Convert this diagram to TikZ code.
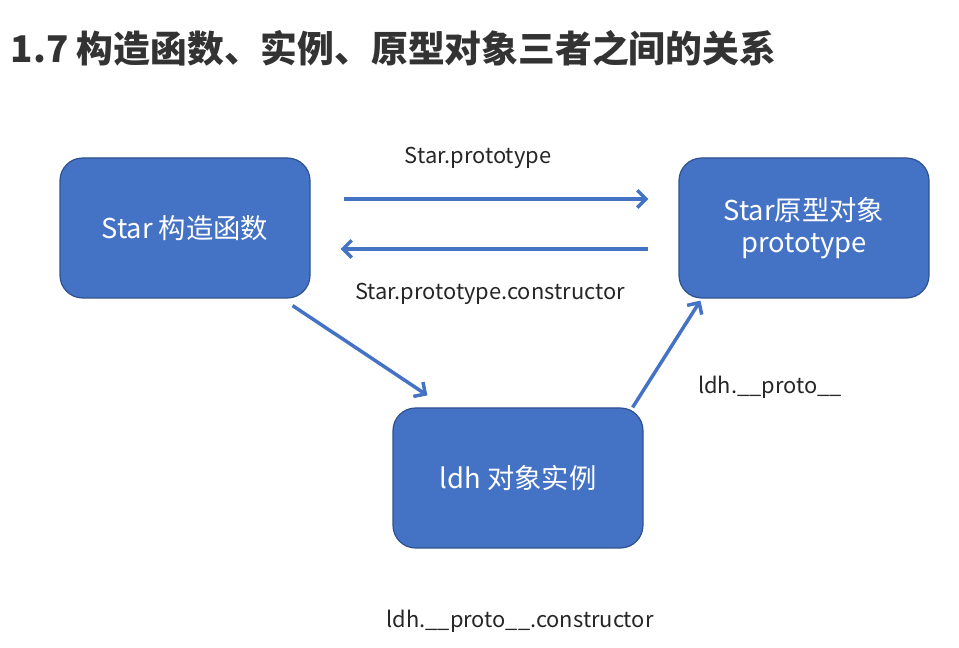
\documentclass[tikz,border=0pt]{standalone}
\usepackage{fontspec}
\setmainfont{Noto Sans CJK SC}
\usetikzlibrary{arrows.meta}

\begin{document}
\begin{tikzpicture}[x=0.75pt,y=0.75pt]
    % Define colours
    \definecolor{boxColour}{HTML}{4472C4}
    \definecolor{borderColour}{HTML}{2F528F}
    \definecolor{titleColour}{HTML}{333333}

    % Define styles
    \tikzset{
        box/.style={rectangle, rounded corners=17pt, fill=boxColour, draw=borderColour,
            line width=0.9pt, minimum width=187.5pt, minimum height=105pt,
            text=white, align=center, font=\fontsize{20.5}{24}\selectfont},
        link/.style={draw=boxColour, line width=2.6pt, -{Straight Barb[length=6.5pt,width=13pt,line width=2.6pt]}},
        lbl/.style={font=\fontsize{16.4}{19}\selectfont, text=black!85}
    }

    % Page
    \fill[white] (0,0) rectangle (959,648);
    \useasboundingbox (0,0) rectangle (959,648);

    % Title
    \node[anchor=west, text=titleColour, font=\fontsize{27.6}{32}\selectfont\bfseries] (title) at (6,600)
        {1.7 构造函数、实例、原型对象三者之间的关系};

    % Draw the three boxes
    \node[box] (ctor) at (185,420) {Star 构造函数};
    \node[box] (proto) at (804,420) {Star原型对象\\prototype};
    \node[box] (inst) at (518,170) {ldh 对象实例};

    % Connect the boxes
    \draw[link, shorten <=25pt, shorten >=22.5pt] ([yshift=21.75pt]ctor.east) -- ([yshift=21.75pt]proto.west);
    \draw[link, shorten <=22.5pt, shorten >=22.5pt] ([yshift=-15.75pt]proto.west) -- ([yshift=-15.75pt]ctor.east);
    \draw[link] ([shift={(-18,-7)}]ctor.south east) -- ([shift={(35,12)}]inst.north west);
    \draw[link] ([shift={(-11,0)}]inst.north east) -- ([shift={(22,-2)}]proto.south west);

    % Label the links
    \node[lbl] (toProto) at (478,490) {Star.prototype};
    \node[lbl] (toCtor) at (490,354) {Star.prototype.constructor};
    \node[lbl] (instProto) at (770,261) {ldh.\_\_proto\_\_};
    \node[lbl] (instCtor) at (520,27) {ldh.\_\_proto\_\_.constructor};

\end{tikzpicture}
\end{document}
